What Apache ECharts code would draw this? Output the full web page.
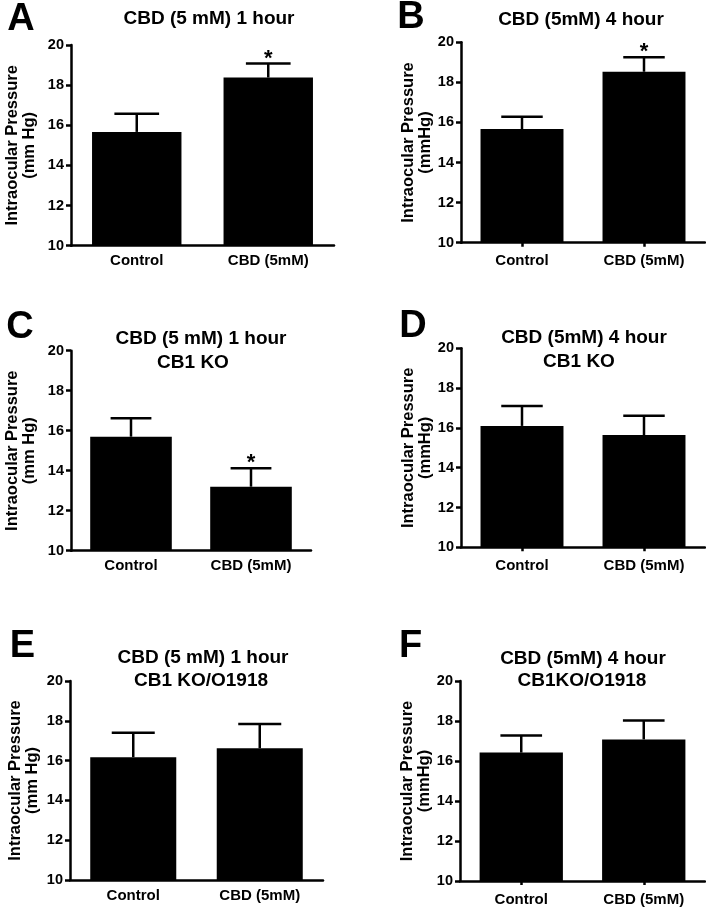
<!DOCTYPE html>
<html>
<head>
<meta charset="utf-8">
<script src="https://cdn.jsdelivr.net/npm/echarts@6/dist/echarts.min.js"></script>
<style>
html,body{margin:0;padding:0;background:#fff;}
#chart{width:706px;height:907px;}
</style>
</head>
<body>
<div id="chart"></div>
<script>
// ---------- DATA ----------
const categories = ['Control', 'CBD (5mM)'];
const yMin = 10, yMax = 20, yStep = 2;

const meanA = [15.67, 18.38]; const semA = [0.90, 0.70]; const sigA = [0, 1];
const meanB = [15.67, 18.53]; const semB = [0.61, 0.72]; const sigB = [0, 1];
const meanC = [15.70, 13.20]; const semC = [0.92, 0.92]; const sigC = [0, 1];
const meanD = [16.10, 15.64]; const semD = [1.00, 0.97]; const sigD = [0, 0];
const meanE = [16.17, 16.62]; const semE = [1.23, 1.22]; const sigE = [0, 0];
const meanF = [16.42, 17.08]; const semF = [0.85, 0.94]; const sigF = [0, 0];

const titleA = ['CBD (5 mM) 1 hour'];
const titleB = ['CBD (5mM) 4 hour'];
const titleC = ['CBD (5 mM) 1 hour', 'CB1 KO'];
const titleD = ['CBD (5mM) 4 hour', 'CB1 KO'];
const titleE = ['CBD (5 mM) 1 hour', 'CB1 KO/O1918'];
const titleF = ['CBD (5mM) 4 hour', 'CB1KO/O1918'];

const yNameMmSpace = 'Intraocular Pressure\n(mm Hg)';
const yNameMm = 'Intraocular Pressure\n(mmHg)';

const letters = ['A', 'B', 'C', 'D', 'E', 'F'];

// ---------- LAYOUT / STYLE ----------
const FONT = '"Liberation Sans", Arial, Helvetica, sans-serif';
const panels = [
  {letter: letters[0], mean: meanA, sem: semA, sig: sigA, title: titleA, yName: yNameMmSpace,
   lx: 21, ly: 20, grid: {left: 71, top: 45, width: 263, height: 200.7}, nameGap: 33, ticks: false,
   tpos: [[209, 19]]},
  {letter: letters[1], mean: meanB, sem: semB, sig: sigB, title: titleB, yName: yNameMm,
   lx: 411, ly: 18, grid: {left: 461, top: 42.3, width: 244, height: 200.4}, nameGap: 27, ticks: true,
   tpos: [[581, 20]]},
  {letter: letters[2], mean: meanC, sem: semC, sig: sigC, title: titleC, yName: yNameMmSpace,
   lx: 20, ly: 327.5, grid: {left: 71, top: 350.7, width: 240, height: 200}, nameGap: 33, ticks: false,
   tpos: [[201, 339], [193, 362.5]]},
  {letter: letters[3], mean: meanD, sem: semD, sig: sigD, title: titleD, yName: yNameMm,
   lx: 413, ly: 327, grid: {left: 461, top: 348.3, width: 244, height: 199}, nameGap: 26, ticks: true,
   tpos: [[584, 337.5], [579, 361.7]]},
  {letter: letters[4], mean: meanE, sem: semE, sig: sigE, title: titleE, yName: yNameMmSpace,
   lx: 22.5, ly: 647, grid: {left: 70, top: 681, width: 253, height: 199}, nameGap: 29, ticks: false,
   tpos: [[203, 657.5], [201, 681]]},
  {letter: letters[5], mean: meanF, sem: semF, sig: sigF, title: titleF, yName: yNameMm,
   lx: 410.5, ly: 647, grid: {left: 460, top: 681, width: 245, height: 200}, nameGap: 22, ticks: true,
   tpos: [[583, 659], [582, 681]]}
];

const grids = [], xAxes = [], yAxes = [], series = [], graphics = [];

panels.forEach(function (p, k) {
  grids.push(Object.assign({containLabel: false}, p.grid));
  xAxes.push({
    type: 'category', gridIndex: k, data: categories,
    axisLine: {show: true, lineStyle: {color: '#000', width: 2.5}},
    axisTick: {show: p.ticks, alignWithLabel: true, length: 4, lineStyle: {color: '#000', width: 2.5}},
    axisLabel: {color: '#000', fontFamily: FONT, fontWeight: 'bold', fontSize: 15, margin: p.ticks ? 11 : 8},
    splitLine: {show: false}
  });
  yAxes.push({
    type: 'value', gridIndex: k, min: yMin, max: yMax, interval: yStep,
    name: p.yName, nameLocation: 'middle', nameRotate: 90, nameGap: p.nameGap,
    nameTextStyle: {color: '#000', fontFamily: FONT, fontWeight: 'bold', fontSize: 16.5, lineHeight: 17},
    axisLine: {show: true, lineStyle: {color: '#000', width: 2.5}},
    axisTick: {show: true, length: 5, lineStyle: {color: '#000', width: 2.5}},
    axisLabel: {color: '#000', fontFamily: FONT, fontWeight: 'bold', fontSize: 14.5, margin: 7},
    splitLine: {show: false}
  });
  series.push({
    type: 'bar', xAxisIndex: k, yAxisIndex: k, data: p.mean, barWidth: '68%',
    itemStyle: {color: '#000'}, silent: true, animation: false
  });
  const errData = p.mean.map(function (m, i) { return [i, m, p.sem[i]]; });
  series.push({
    type: 'custom', xAxisIndex: k, yAxisIndex: k, data: errData, silent: true, animation: false, z: 3,
    renderItem: function (params, api) {
      const i = api.value(0), m = api.value(1), e = api.value(2);
      const base = api.coord([i, m]);
      const top = api.coord([i, m + e]);
      const w = api.size([1, 0])[0] * 0.34;
      const st = {stroke: '#000', lineWidth: 2.5};
      return {type: 'group', children: [
        {type: 'line', shape: {x1: base[0], y1: base[1], x2: top[0], y2: top[1]}, style: st},
        {type: 'line', shape: {x1: top[0] - w / 2, y1: top[1], x2: top[0] + w / 2, y2: top[1]}, style: st}
      ]};
    }
  });
  const starData = [];
  p.mean.forEach(function (m, i) { if (p.sig[i]) starData.push([i, m + p.sem[i]]); });
  if (starData.length) {
    series.push({
      type: 'custom', xAxisIndex: k, yAxisIndex: k, data: starData, silent: true, animation: false, z: 4,
      renderItem: function (params, api) {
        const pt = api.coord([api.value(0), api.value(1)]);
        return {type: 'text', x: pt[0], y: pt[1] - 5,
          style: {text: '*', fill: '#000', font: 'bold 22px ' + FONT, align: 'center', verticalAlign: 'middle'}};
      }
    });
  }
  graphics.push({type: 'text', x: p.lx, y: p.ly, silent: true,
    style: {text: p.letter, fill: '#000', font: 'bold 38px ' + FONT, align: 'center', verticalAlign: 'middle'}});
  p.title.forEach(function (line, j) {
    graphics.push({type: 'text', x: p.tpos[j][0], y: p.tpos[j][1], silent: true,
      style: {text: line, fill: '#000', font: 'bold 19px ' + FONT, align: 'center', verticalAlign: 'middle'}});
  });
});

const chart = echarts.init(document.getElementById('chart'), null, {renderer: 'canvas'});
chart.setOption({
  backgroundColor: '#fff',
  animation: false,
  grid: grids, xAxis: xAxes, yAxis: yAxes, series: series,
  graphic: graphics
});
</script>
</body>
</html>
